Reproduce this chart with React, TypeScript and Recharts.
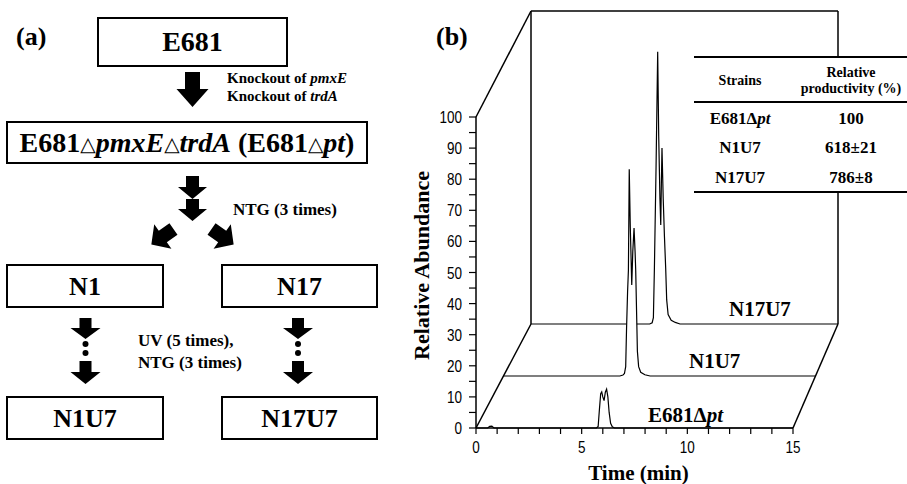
import React from "react";
import { ComposedChart, Area, XAxis, YAxis, ReferenceLine } from "recharts";

// chromatograms: retention time (min) and relative abundance
const e681Time = [0, 0.55, 0.65, 0.75, 0.85, 5.7, 5.78, 5.84, 5.9, 5.95, 6.0, 6.06, 6.12, 6.18, 6.24, 6.3, 6.37, 6.45, 6.55, 15];
const e681Abundance = [0, 0, 0.5, 0.6, 0, 0, 0.5, 6, 11, 11.6, 10, 8.8, 11.5, 12.5, 10, 5, 1.5, 0.4, 0, 0];

const n1u7Time = [0, 5.6, 5.75, 5.82, 5.88, 5.92, 5.97, 6.01, 6.05, 6.1, 6.17, 6.22, 6.28, 6.33, 6.36, 6.41, 6.44, 6.5, 6.6, 6.8, 7.05, 15];
const n1u7Abundance = [0, 0, 0.3, 0.8, 3, 15, 27, 34, 66.5, 48, 29.3, 40, 47.6, 40, 34, 18, 8, 3, 1.2, 0.4, 0, 0];

const n17u7Time = [0, 5.8, 5.92, 5.98, 6.03, 6.11, 6.19, 6.24, 6.3, 6.34, 6.37, 6.4, 6.46, 6.52, 6.58, 6.63, 6.7, 6.85, 7.05, 7.28, 15];
const n17u7Abundance = [0, 0, 0.4, 2, 18, 50, 87, 60, 40, 31.6, 45, 56.2, 40, 28, 18, 7.7, 3, 1.2, 0.5, 0, 0];

const timeTicks = [0, 1, 2, 3, 4, 5, 6, 7, 8, 9, 10, 11, 12, 13, 14, 15];
const abundanceTicks = [0, 5, 10, 15, 20, 25, 30, 35, 40, 45, 50, 55, 60, 65, 70, 75, 80, 85, 90, 95, 100];

const tableStrains = ["E681", "N1U7", "N17U7"];
const tableProductivity = ["100", "618\u00b121", "786\u00b18"];

const SERIF = '"Liberation Serif", "Times New Roman", Times, serif';
const SANS = '"Liberation Sans", Arial, sans-serif';

const zip = (t: number[], v: number[]) => t.map((x, i) => ({ t: x, v: v[i] }));

// panel (b) box on the page, and each plane's plot rectangle in page pixels
const PB_LEFT = 400;
const PB_W = 507;
const PB_H = 484;
const front = { left: 476, right: 793, top: 117, bottom: 428 };
const middle = { left: 503, right: 816, top: 65, bottom: 376 };
const back = { left: 531, right: 838, top: 11, bottom: 324 };

const marginOf = (p: typeof front) => ({
  left: p.left - PB_LEFT,
  right: PB_LEFT + PB_W - p.right,
  top: p.top,
  bottom: PB_H - p.bottom,
});

// page pixel -> front plane units (for the perspective edges)
const fx = (px: number) => ((px - front.left) / (front.right - front.left)) * 15;
const fy = (py: number) => ((front.bottom - py) / (front.bottom - front.top)) * 100;

const trace = {
  stroke: "#000",
  strokeWidth: 1.2,
  fill: "#fff",
  fillOpacity: 1,
  dot: false,
  activeDot: false,
  isAnimationActive: false,
  type: "linear" as const,
};

function downArrow(cx: number, top: number, sw: number, sl: number, hw: number, hl: number) {
  const y1 = top + sl;
  const y2 = y1 + hl;
  return `${cx - sw},${top} ${cx + sw},${top} ${cx + sw},${y1} ${cx + hw},${y1} ${cx},${y2} ${cx - hw},${y1} ${cx - sw},${y1}`;
}

// narrow sans tick labels, like the condensed Arial of the original
function NarrowTick({ x, y, payload, axis }: any) {
  const v = payload.value;
  const label = v % (axis === "x" ? 5 : 10) === 0 ? String(v) : "";
  if (!label) return null;
  const tx = axis === "x" ? x : x - 7;
  const ty = axis === "x" ? y + 16 : y + 6;
  return (
    <text
      transform={`translate(${tx} ${ty}) scale(0.82 1)`}
      textAnchor={axis === "x" ? "middle" : "end"}
      fontFamily={SANS}
      fontSize={16.5}
      fill="#000"
    >
      {label}
    </text>
  );
}

function Tri() {
  return (
    <tspan fontWeight={400} fontSize={20} fontFamily="DejaVu Sans" dy={-1}>
      {"\u25b3"}
    </tspan>
  );
}

function Flowchart() {
  const box = { fill: "#fff", stroke: "#000", strokeWidth: 2 };
  const big = { fontFamily: SERIF, fontWeight: 700, fontSize: 26, textAnchor: "middle" as const };
  const note = { fontFamily: SERIF, fontWeight: 700, fontSize: 15 };
  const note2 = { fontFamily: SERIF, fontWeight: 700, fontSize: 17 };
  return (
    <svg width={400} height={484} style={{ position: "absolute", left: 0, top: 0 }}>
      <text x={16} y={45} fontFamily={SERIF} fontWeight={700} fontSize={26}>(a)</text>

      <rect x={98} y={18} width={189} height={48} {...box} />
      <text x={192.5} y={51} {...big} fontSize={28}>E681</text>

      <polygon points={downArrow(192.5, 72, 7.5, 17, 16, 18)} fill="#000" />
      <text x={227} y={83} {...note}>Knockout of <tspan fontStyle="italic">pmxE</tspan></text>
      <text x={227} y={101} {...note}>Knockout of <tspan fontStyle="italic">trdA</tspan></text>

      <rect x={7} y={122} width={360} height={41} {...box} />
      <text x={187} y={152} {...big} fontSize={28}>
        E681<Tri />
        <tspan fontStyle="italic" dy={1}>pmxE</tspan>
        <Tri />
        <tspan fontStyle="italic" dy={1}>trdA</tspan> (E681
        <Tri />
        <tspan fontStyle="italic" dy={1}>pt</tspan>)
      </text>

      <polygon points={downArrow(192.5, 176, 6.5, 11, 14.5, 12)} fill="#000" />
      <polygon points={downArrow(192.5, 199, 6.5, 10, 14.5, 12)} fill="#000" />
      <text x={233} y={215} {...note2}>NTG (3 times)</text>

      <polygon points={downArrow(0, -14, 7, 13, 15, 14)} fill="#000" transform="translate(162,237) rotate(55)" />
      <polygon points={downArrow(0, -14, 7, 13, 15, 14)} fill="#000" transform="translate(223,237) rotate(-55)" />

      <rect x={7} y={265} width={156} height={42} {...box} />
      <text x={85} y={295} {...big}>N1</text>
      <rect x={222} y={265} width={155} height={42} {...box} />
      <text x={299.5} y={295} {...big}>N17</text>

      {[85.5, 298].map((cx) => (
        <g key={cx}>
          <polygon points={downArrow(cx, 318, 6, 10, 15, 11)} fill="#000" />
          <circle cx={cx} cy={344} r={3} fill="#000" />
          <circle cx={cx} cy={353} r={3} fill="#000" />
          <polygon points={downArrow(cx, 361, 6, 11, 15, 12)} fill="#000" />
        </g>
      ))}
      <text x={138} y={346} {...note2}>UV (5 times),</text>
      <text x={138} y={368} {...note2}>NTG (3 times)</text>

      <rect x={7} y={397} width={156} height={42} {...box} />
      <text x={85} y={427} {...big}>N1U7</text>
      <rect x={222} y={397} width={155} height={42} {...box} />
      <text x={299.5} y={427} {...big}>N17U7</text>
    </svg>
  );
}

function Overlay() {
  const row = { fontFamily: SERIF, fontWeight: 700, fontSize: 17, textAnchor: "middle" as const };
  const head = { fontFamily: SERIF, fontWeight: 700, fontSize: 14, textAnchor: "middle" as const };
  const plane = { fontFamily: SERIF, fontWeight: 700, fontSize: 21 };
  const rowY = [124, 153, 183];
  return (
    <svg width={907} height={484} style={{ position: "absolute", left: 0, top: 0 }}>
      <text x={436} y={45} fontFamily={SERIF} fontWeight={700} fontSize={26}>(b)</text>

      <text x={729} y={316} {...plane}>N17U7</text>
      <text x={689} y={368} {...plane}>N1U7</text>
      <text x={648} y={422} {...plane}>E681<tspan>{"\u0394"}</tspan><tspan fontStyle="italic">pt</tspan></text>

      <rect x={694} y={56} width={213} height={137} fill="#fff" />
      <line x1={694} x2={907} y1={57} y2={57} stroke="#000" strokeWidth={2} />
      <line x1={694} x2={907} y1={102} y2={102} stroke="#000" strokeWidth={2} />
      <line x1={694} x2={907} y1={192} y2={192} stroke="#000" strokeWidth={2} />
      <text x={740} y={85} {...head}>Strains</text>
      <text x={851} y={77} {...head}>Relative</text>
      <text x={851} y={93} {...head}>productivity (%)</text>
      {tableStrains.map((s, i) => (
        <text key={s} x={740} y={rowY[i]} {...row}>
          {s}
          {i === 0 ? (
            <>
              <tspan>{"\u0394"}</tspan>
              <tspan fontStyle="italic">pt</tspan>
            </>
          ) : null}
        </text>
      ))}
      {tableProductivity.map((p, i) => (
        <text key={p} x={851} y={rowY[i]} {...row}>{p}</text>
      ))}
    </svg>
  );
}

function PlaneChart({ data, plane, children }: { data: { t: number; v: number }[]; plane: typeof front; children?: React.ReactNode }) {
  return (
    <div style={{ position: "absolute", left: PB_LEFT, top: 0 }}>
      <ComposedChart width={PB_W} height={PB_H} data={data} margin={marginOf(plane)}>
        <XAxis type="number" dataKey="t" domain={[0, 15]} hide />
        <YAxis type="number" domain={[0, 100]} hide />
        {children}
        <Area dataKey="v" {...trace} />
      </ComposedChart>
    </div>
  );
}

export default function App() {
  const frontMargin = marginOf(front);
  const frame = { stroke: "#000", strokeWidth: 1.5 };
  return (
    <div style={{ position: "absolute", left: 0, top: 0, width: 907, height: 484, background: "#fff", overflow: "hidden" }}>
      <Flowchart />

      <PlaneChart data={zip(n17u7Time, n17u7Abundance)} plane={back}>
        <ReferenceLine x={0} {...frame} />
        <ReferenceLine x={15} {...frame} />
        <ReferenceLine y={100} {...frame} />
      </PlaneChart>

      <PlaneChart data={zip(n1u7Time, n1u7Abundance)} plane={middle} />

      <div style={{ position: "absolute", left: PB_LEFT, top: 0 }}>
        <ComposedChart
          width={PB_W}
          height={PB_H}
          data={zip(e681Time, e681Abundance)}
          margin={{ left: frontMargin.left - 60, right: frontMargin.right, top: frontMargin.top, bottom: frontMargin.bottom - 50 }}
        >
          <XAxis
            type="number"
            dataKey="t"
            domain={[0, 15]}
            ticks={timeTicks}
            interval={0}
            height={50}
            tickSize={6}
            tickMargin={3}
            tick={<NarrowTick axis="x" />}
            axisLine={{ stroke: "#000", strokeWidth: 1.5 }}
            tickLine={{ stroke: "#000", strokeWidth: 1.2 }}
            label={{
              content: ({ viewBox }: any) => (
                <text x={viewBox.x + viewBox.width / 2 + 4} y={480} textAnchor="middle" fontFamily={SERIF} fontWeight={700} fontSize={21}>
                  Time (min)
                </text>
              ),
            }}
          />
          <YAxis
            type="number"
            domain={[0, 100]}
            ticks={abundanceTicks}
            interval={0}
            width={60}
            tickSize={7}
            tickMargin={0}
            tick={<NarrowTick axis="y" />}
            axisLine={{ stroke: "#000", strokeWidth: 1.5 }}
            tickLine={{ stroke: "#000", strokeWidth: 1.2 }}
            label={{
              content: ({ viewBox }: any) => {
                const x = viewBox.x + viewBox.width - 47;
                const y = viewBox.y + viewBox.height / 2 - 7;
                return (
                  <text x={x} y={y} transform={`rotate(-90 ${x} ${y})`} textAnchor="middle" fontFamily={SERIF} fontWeight={700} fontSize={22}>
                    Relative Abundance
                  </text>
                );
              },
            }}
          />
          <ReferenceLine ifOverflow="visible" segment={[{ x: 0, y: 0 }, { x: fx(back.left), y: fy(back.bottom) }]} {...frame} />
          <ReferenceLine ifOverflow="visible" segment={[{ x: 15, y: 0 }, { x: fx(back.right), y: fy(back.bottom) }]} {...frame} />
          <ReferenceLine ifOverflow="visible" segment={[{ x: 0, y: 100 }, { x: fx(back.left), y: fy(back.top) }]} {...frame} />
          <Area dataKey="v" {...trace} />
        </ComposedChart>
      </div>

      <Overlay />
    </div>
  );
}
